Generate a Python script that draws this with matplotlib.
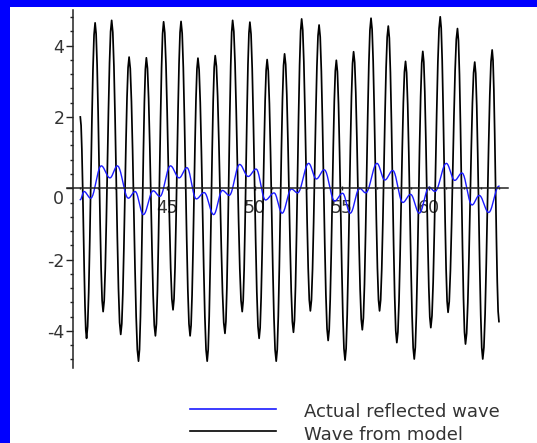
import numpy as np
import matplotlib
matplotlib.use("Agg")
import matplotlib.pyplot as plt
from matplotlib.lines import Line2D
from matplotlib.patches import Rectangle
from matplotlib.ticker import FixedLocator, MultipleLocator
from matplotlib.transforms import ScaledTranslation

# Wave from model: start/end points plus turning points (troughs, peaks)
MODEL_START = (40.0, 2.0)
MODEL_END = (64.02, -3.74)
MODEL_TROUGH_T = [40.36, 41.31, 42.32, 43.34, 44.31, 45.32, 46.30, 47.28,
                  48.30, 49.29, 50.26, 51.24, 52.23, 53.20, 54.22, 55.19,
                  56.18, 57.17, 58.16, 59.16, 60.11, 61.10, 62.10, 63.09]
MODEL_TROUGH_Y = [-4.21, -3.46, -4.10, -4.85, -4.14, -3.41, -4.14, -4.85,
                  -4.07, -3.46, -4.21, -4.85, -4.04, -3.44, -4.27, -4.82,
                  -3.97, -3.44, -4.33, -4.79, -3.91, -3.48, -4.37, -4.79]
MODEL_PEAK_T = [40.85, 41.80, 42.80, 43.79, 44.78, 45.78, 46.75, 47.74,
                48.74, 49.73, 50.72, 51.72, 52.70, 53.70, 54.69, 55.68,
                56.68, 57.67, 58.66, 59.65, 60.65, 61.64, 62.63, 63.63]
MODEL_PEAK_Y = [4.64, 4.71, 3.68, 3.66, 4.67, 4.68, 3.65, 3.72,
                4.71, 4.66, 3.61, 3.77, 4.75, 4.58, 3.59, 3.83,
                4.77, 4.55, 3.56, 3.84, 4.81, 4.48, 3.54, 3.88]

# Actual reflected wave: turning points
REFL_T = [40.0, 40.21, 40.6, 41.2, 41.7, 42.13, 42.75, 43.15, 43.62, 44.18,
          44.57, 45.17, 45.67, 46.12, 46.65, 47.11, 47.65, 48.15, 48.55, 49.14,
          49.63, 50.09, 50.62, 51.12, 51.58, 52.11, 52.47, 53.1, 53.54, 54.0,
          54.59, 55.05, 55.49, 56.02, 56.38, 57.02, 57.47, 57.93, 58.5, 58.95,
          59.45, 60.01, 60.35, 61.0, 61.48, 61.9, 62.47, 62.89, 63.43, 64.02]
REFL_Y = [-0.32, -0.09, -0.28, 0.63, 0.29, 0.63, -0.28, -0.09, -0.74, -0.07,
          -0.23, 0.63, 0.29, 0.58, -0.30, -0.12, -0.74, -0.06, -0.20, 0.67,
          0.33, 0.54, -0.33, -0.13, -0.70, -0.02, -0.13, 0.70, 0.26, 0.52,
          -0.36, -0.14, -0.70, 0.0, -0.13, 0.70, 0.23, 0.50, -0.40, -0.17,
          -0.70, 0.03, -0.09, 0.70, 0.22, 0.43, -0.47, -0.20, -0.68, 0.06]

XTICKS = [45, 50, 55, 60]
YTICKS = [-4, -2, 0, 2, 4]
LABELS = ["Actual reflected wave", "Wave from model"]

W, H = 537, 443
BLUE = "#1a1aff"
TEXT = "#333333"


def half_cosine(t, y, n=10):
    # smooth path through turning points
    xs, ys = [t[0]], [y[0]]
    u = np.linspace(0, 1, n + 1)[1:]
    for i in range(len(t) - 1):
        xs.extend(t[i] + (t[i + 1] - t[i]) * u)
        ys.extend(y[i] + (y[i + 1] - y[i]) * (1 - np.cos(np.pi * u)) / 2)
    return np.array(xs), np.array(ys)


def main():
    model_t = [MODEL_START[0]]
    model_y = [MODEL_START[1]]
    for tt, ty, pt, py in zip(MODEL_TROUGH_T, MODEL_TROUGH_Y, MODEL_PEAK_T, MODEL_PEAK_Y):
        model_t += [tt, pt]
        model_y += [ty, py]
    model_t.append(MODEL_END[0])
    model_y.append(MODEL_END[1])

    model_x, model_v = half_cosine(model_t, model_y, n=8)
    refl_x, refl_v = half_cosine(REFL_T, REFL_Y)

    fig = plt.figure(figsize=(W / 100, H / 100), dpi=100, facecolor="#0000ff")
    fig.add_artist(Rectangle((10 / W, 0), 1, 1 - 7 / H, transform=fig.transFigure,
                             facecolor="white", edgecolor="none", zorder=0))

    ax = fig.add_axes([66.7 / W, 1 - 368.3 / H, 440.8 / W, 358.3 / H])
    ax.patch.set_visible(False)

    ax.plot(model_x, model_v, color="black", lw=1.25)
    ax.plot(refl_x, refl_v, color=BLUE, lw=1.0)

    ax.set_xlim(39.22, 64.51)
    ax.set_ylim(-5.05, 5.0)

    for side in ("top", "right"):
        ax.spines[side].set_visible(False)
    ax.spines["left"].set_position(("data", 39.6))
    ax.spines["bottom"].set_position(("data", 0))
    for side in ("left", "bottom"):
        ax.spines[side].set_color("#222222")
        ax.spines[side].set_linewidth(1.1)

    ax.yaxis.set_major_locator(FixedLocator(YTICKS))
    ax.yaxis.set_minor_locator(MultipleLocator(0.4))
    ax.set_yticklabels([str(v) for v in YTICKS])
    ax.xaxis.set_major_locator(FixedLocator(XTICKS))
    ax.xaxis.set_minor_locator(MultipleLocator(1))
    ax.set_xticklabels([str(v) for v in XTICKS])

    ax.tick_params(axis="y", which="major", direction="out", length=5, width=1,
                   pad=1.5, labelsize=12.5, labelcolor=TEXT, color="#222222")
    ax.tick_params(axis="y", which="minor", direction="out", length=2.2, width=1,
                   color="#222222")
    ax.tick_params(axis="x", which="major", direction="inout", length=3, width=1,
                   pad=6, labelsize=12.5, labelcolor=TEXT, color="#222222")
    ax.tick_params(axis="x", which="minor", direction="inout", length=2, width=1,
                   color="#222222")

    # the zero label sits a little below its tick
    zero_lbl = ax.yaxis.get_major_ticks()[YTICKS.index(0)].label1
    zero_lbl.set_transform(zero_lbl.get_transform()
                           + ScaledTranslation(0, -0.09, fig.dpi_scale_trans))

    # legend below the plot
    colors = [BLUE, "black"]
    line_y = [409.3, 431.0]
    text_base = [417.3, 440.0]
    for lbl, c, ly, tb in zip(LABELS, colors, line_y, text_base):
        fig.add_artist(Line2D([190 / W, 276 / W], [1 - ly / H] * 2, color=c, lw=1.2,
                              transform=fig.transFigure))
        fig.text(304 / W, 1 - tb / H, lbl, fontsize=13, color=TEXT, va="baseline")

    fig.savefig("out.png", dpi=100)
    plt.close(fig)


if __name__ == "__main__":
    main()
